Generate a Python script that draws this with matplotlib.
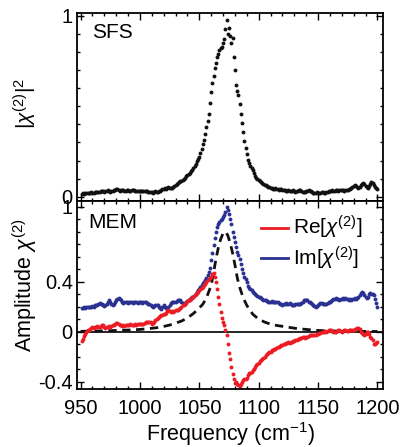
import numpy as np
import matplotlib
matplotlib.use('Agg')
import matplotlib.pyplot as plt
from matplotlib.lines import Line2D
from matplotlib.ticker import FixedLocator, MultipleLocator

plt.rcParams.update({'font.family': 'Liberation Sans', 'font.size': 14.5,
                     'mathtext.fontset': 'custom',
                     'mathtext.rm': 'Liberation Sans',
                     'mathtext.it': 'Liberation Sans:italic'})

# frequency axis (cm-1), one point per wavenumber
freq = np.arange(951, 1201)

# SFS intensity |chi2|^2
sfs = [
    0.015, 0.018, 0.016, 0.020, 0.022, 0.020, 0.019, 0.021, 0.024, 0.022,
    0.023, 0.025, 0.027, 0.026, 0.024, 0.027, 0.030, 0.032, 0.029, 0.027,
    0.030, 0.033, 0.036, 0.031, 0.028, 0.030, 0.033, 0.035, 0.038, 0.042,
    0.040, 0.036, 0.033, 0.035, 0.038, 0.036, 0.034, 0.033, 0.036, 0.035,
    0.033, 0.034, 0.036, 0.038, 0.035, 0.032, 0.030, 0.033, 0.031, 0.029,
    0.030, 0.032, 0.031, 0.034, 0.032, 0.030, 0.025, 0.024, 0.027, 0.026,
    0.023, 0.026, 0.030, 0.028, 0.025, 0.030, 0.034, 0.038, 0.041, 0.044,
    0.046, 0.043, 0.047, 0.052, 0.050, 0.047, 0.050, 0.055, 0.058, 0.064,
    0.070, 0.074, 0.079, 0.084, 0.088, 0.094, 0.100, 0.106, 0.113, 0.120,
    0.126, 0.132, 0.140, 0.148, 0.158, 0.172, 0.183, 0.195, 0.208, 0.222,
    0.240, 0.262, 0.290, 0.315, 0.345, 0.385, 0.420, 0.455, 0.520, 0.580,
    0.630, 0.670, 0.710, 0.740, 0.770, 0.790, 0.810, 0.820, 0.830, 0.850,
    0.870, 0.930, 0.980, 0.900, 0.935, 0.890, 0.850, 0.880, 0.770, 0.700,
    0.620, 0.585, 0.560, 0.510, 0.460, 0.410, 0.360, 0.310, 0.270, 0.235,
    0.205, 0.185, 0.170, 0.158, 0.147, 0.130, 0.115, 0.105, 0.098, 0.092,
    0.085, 0.080, 0.074, 0.068, 0.064, 0.062, 0.058, 0.055, 0.052, 0.050,
    0.047, 0.045, 0.044, 0.046, 0.043, 0.040, 0.038, 0.040, 0.041, 0.037,
    0.035, 0.036, 0.034, 0.033, 0.035, 0.033, 0.031, 0.033, 0.035, 0.031,
    0.028, 0.030, 0.034, 0.037, 0.035, 0.030, 0.026, 0.024, 0.027, 0.030,
    0.033, 0.036, 0.034, 0.030, 0.026, 0.022, 0.020, 0.022, 0.025, 0.023,
    0.021, 0.022, 0.025, 0.024, 0.022, 0.023, 0.026, 0.028, 0.029, 0.030,
    0.032, 0.035, 0.033, 0.034, 0.036, 0.035, 0.034, 0.035, 0.036, 0.037,
    0.035, 0.034, 0.036, 0.038, 0.035, 0.040, 0.045, 0.050, 0.055, 0.060,
    0.062, 0.058, 0.052, 0.050, 0.056, 0.063, 0.070, 0.074, 0.068, 0.060,
    0.052, 0.048, 0.058, 0.070, 0.082, 0.078, 0.065, 0.052, 0.048, 0.040,
]

# MEM imaginary part
im_chi = [
    0.190, 0.190, 0.195, 0.190, 0.200, 0.195, 0.200, 0.195, 0.200, 0.205,
    0.200, 0.210, 0.210, 0.215, 0.220, 0.230, 0.225, 0.220, 0.210, 0.205,
    0.210, 0.220, 0.235, 0.250, 0.240, 0.220, 0.210, 0.220, 0.235, 0.250,
    0.260, 0.270, 0.265, 0.250, 0.240, 0.230, 0.235, 0.240, 0.235, 0.230,
    0.235, 0.240, 0.235, 0.230, 0.235, 0.240, 0.235, 0.230, 0.235, 0.240,
    0.235, 0.230, 0.235, 0.240, 0.235, 0.230, 0.225, 0.220, 0.210, 0.205,
    0.200, 0.205, 0.210, 0.215, 0.210, 0.200, 0.190, 0.185, 0.200, 0.210,
    0.200, 0.190, 0.185, 0.200, 0.215, 0.230, 0.235, 0.240, 0.235, 0.240,
    0.245, 0.250, 0.255, 0.250, 0.240, 0.230, 0.220, 0.225, 0.235, 0.245,
    0.255, 0.260, 0.270, 0.275, 0.280, 0.290, 0.300, 0.315, 0.330, 0.345,
    0.360, 0.375, 0.390, 0.400, 0.415, 0.430, 0.450, 0.480, 0.510, 0.570,
    0.630, 0.690, 0.750, 0.800, 0.840, 0.860, 0.880, 0.890, 0.900, 0.920,
    0.935, 0.960, 1.000, 0.970, 0.940, 0.900, 0.860, 0.800, 0.760, 0.720,
    0.680, 0.640, 0.610, 0.580, 0.540, 0.500, 0.470, 0.440, 0.420, 0.400,
    0.365, 0.350, 0.340, 0.330, 0.320, 0.310, 0.300, 0.290, 0.285, 0.280,
    0.275, 0.270, 0.265, 0.256, 0.255, 0.250, 0.245, 0.240, 0.235, 0.240,
    0.245, 0.240, 0.235, 0.240, 0.240, 0.235, 0.230, 0.225, 0.220, 0.215,
    0.220, 0.225, 0.230, 0.225, 0.220, 0.230, 0.225, 0.215, 0.210, 0.215,
    0.220, 0.225, 0.220, 0.220, 0.225, 0.230, 0.240, 0.250, 0.255, 0.256,
    0.250, 0.240, 0.235, 0.230, 0.225, 0.215, 0.205, 0.200, 0.205, 0.215,
    0.225, 0.230, 0.230, 0.225, 0.220, 0.220, 0.225, 0.230, 0.235, 0.240,
    0.245, 0.250, 0.260, 0.265, 0.270, 0.265, 0.260, 0.255, 0.260, 0.265,
    0.270, 0.265, 0.270, 0.265, 0.260, 0.255, 0.260, 0.256, 0.260, 0.265,
    0.270, 0.265, 0.270, 0.280, 0.295, 0.310, 0.320, 0.310, 0.290, 0.280,
    0.270, 0.280, 0.300, 0.310, 0.305, 0.300, 0.290, 0.260, 0.230, 0.200,
]

# MEM real part
re_chi = [
    -0.075, -0.055, -0.035, -0.020, 0.000, 0.010, 0.015, 0.020, 0.030, 0.035,
    0.030, 0.035, 0.040, 0.045, 0.040, 0.035, 0.045, 0.055, 0.050, 0.040,
    0.030, 0.035, 0.040, 0.045, 0.040, 0.045, 0.050, 0.055, 0.060, 0.070,
    0.070, 0.060, 0.055, 0.050, 0.045, 0.050, 0.045, 0.050, 0.055, 0.050,
    0.055, 0.060, 0.055, 0.050, 0.055, 0.060, 0.055, 0.060, 0.065, 0.060,
    0.065, 0.060, 0.065, 0.070, 0.075, 0.080, 0.075, 0.080, 0.075, 0.065,
    0.070, 0.080, 0.090, 0.100, 0.110, 0.120, 0.125, 0.130, 0.135, 0.140,
    0.140, 0.150, 0.165, 0.170, 0.165, 0.160, 0.165, 0.160, 0.165, 0.170,
    0.170, 0.175, 0.180, 0.190, 0.200, 0.210, 0.215, 0.220, 0.230, 0.245,
    0.250, 0.256, 0.265, 0.275, 0.280, 0.290, 0.300, 0.310, 0.320, 0.330,
    0.340, 0.350, 0.360, 0.370, 0.380, 0.395, 0.415, 0.420, 0.430, 0.440,
    0.460, 0.470, 0.440, 0.400, 0.340, 0.280, 0.220, 0.160, 0.110, 0.080,
    0.050, 0.010, -0.030, -0.100, -0.170, -0.220, -0.280, -0.340, -0.380, -0.410,
    -0.400, -0.420, -0.430, -0.435, -0.420, -0.400, -0.390, -0.380, -0.375, -0.370,
    -0.350, -0.330, -0.330, -0.320, -0.310, -0.300, -0.285, -0.270, -0.260, -0.250,
    -0.235, -0.230, -0.215, -0.210, -0.200, -0.190, -0.180, -0.170, -0.165, -0.160,
    -0.150, -0.145, -0.140, -0.135, -0.130, -0.125, -0.120, -0.115, -0.110, -0.105,
    -0.100, -0.095, -0.090, -0.090, -0.085, -0.090, -0.085, -0.080, -0.077, -0.075,
    -0.070, -0.065, -0.060, -0.055, -0.050, -0.050, -0.045, -0.045, -0.050, -0.045,
    -0.040, -0.035, -0.030, -0.025, -0.024, -0.030, -0.030, -0.025, -0.020, -0.015,
    -0.010, -0.010, -0.005, 0.000, 0.000, 0.005, 0.000, 0.005, 0.010, 0.010,
    0.010, 0.005, 0.000, 0.000, 0.000, 0.005, 0.010, 0.010, 0.005, 0.000,
    0.005, 0.010, 0.010, 0.005, 0.005, 0.010, 0.010, 0.010, 0.010, 0.015,
    0.020, 0.025, 0.030, 0.030, 0.020, 0.000, -0.010, -0.020, -0.025, -0.015,
    -0.005, 0.000, -0.020, -0.040, -0.050, -0.070, -0.100, -0.100, -0.090, -0.080,
]

# dashed fit curve
fit_freq = [950, 960, 970, 980, 990, 1000, 1010, 1015, 1020, 1025, 1030, 1035,
            1040, 1045, 1050, 1053, 1056, 1058, 1060, 1062, 1064, 1066, 1068,
            1070, 1072, 1074, 1076, 1078, 1080, 1082, 1084, 1087, 1090, 1095,
            1100, 1105, 1110, 1115, 1120, 1130, 1140, 1150, 1160, 1170, 1180,
            1190, 1200]
fit_vals = [0.003, 0.005, 0.007, 0.010, 0.013, 0.018, 0.027, 0.033, 0.042,
            0.053, 0.068, 0.085, 0.110, 0.145, 0.190, 0.220, 0.270, 0.320,
            0.370, 0.470, 0.580, 0.670, 0.740, 0.785, 0.800, 0.770, 0.710,
            0.630, 0.535, 0.430, 0.355, 0.270, 0.210, 0.140, 0.100, 0.077,
            0.060, 0.050, 0.043, 0.028, 0.018, 0.010, 0.006, 0.004, 0.003,
            0.002, 0.002]

red = '#ec1c24'
blue = '#2b3192'

fig = plt.figure(figsize=(4.01, 4.47), dpi=100)
ax1 = fig.add_axes([0.192, 0.5503, 0.764, 0.4206])
ax2 = fig.add_axes([0.192, 0.1298, 0.764, 0.4206], sharex=ax1)

ax1.plot(freq, sfs, ls='none', marker='o', ms=2.8, mew=0, color='#111111')
ax1.set_ylim(-0.024, 1.016)
ax1.yaxis.set_major_locator(FixedLocator([0, 1]))
ax1.set_yticklabels(['0', '1'])
ax1.set_ylabel(r'$|\chi^{(2)}|^2$', fontsize=15)
ax1.yaxis.set_label_coords(-0.125, 0.52)
ax1.text(0.05, 0.867, 'SFS', transform=ax1.transAxes, fontsize=15, va='baseline')
ax1.tick_params(axis='x', labelbottom=False)

ax2.axhline(0, color='black', lw=1.2)
ax2.plot(fit_freq, fit_vals, ls='--', color='#111111', lw=2, dashes=(3, 2))
ax2.plot(freq, im_chi, ls='none', marker='o', ms=2.8, mew=0, color=blue)
ax2.plot(freq, re_chi, ls='none', marker='o', ms=2.8, mew=0, color=red)
ax2.set_ylim(-0.458, 1.045)
ax2.yaxis.set_major_locator(FixedLocator([-0.4, 0, 0.4, 1]))
ax2.set_yticklabels(['-0.4', '0', '0.4', '1'])
ax2.set_xlim(947, 1205)
ax2.set_xticks([950, 1000, 1050, 1100, 1150, 1200])
ax2.set_xlabel(r'Frequency (cm$^{\mathrm{-1}}$)', fontsize=15.5, labelpad=2)
ax2.set_ylabel(r'Amplitude $\chi^{(2)}$', fontsize=15.5)
ax2.yaxis.set_label_coords(-0.125, 0.55)
ax2.text(0.038, 0.856, 'MEM', transform=ax2.transAxes, fontsize=15, va='baseline')

handles = [Line2D([], [], color=red, lw=2), Line2D([], [], color=blue, lw=2)]
ax2.legend(handles, [r'Re[$\chi^{(2)}$]', r'Im[$\chi^{(2)}$]'], loc='upper left',
           bbox_to_anchor=(0.6, 0.93), frameon=False, fontsize=15,
           handlelength=1.3, handletextpad=0.25, labelspacing=0.15,
           borderpad=0, borderaxespad=0)

for ax in (ax1, ax2):
    ax.xaxis.set_minor_locator(MultipleLocator(10))
    ax.yaxis.set_minor_locator(MultipleLocator(0.1))
    ax.tick_params(which='both', direction='in', top=True, right=True, width=1)
    ax.tick_params(which='major', length=5)
    ax.tick_params(which='minor', length=2.5)
    ax.tick_params(axis='x', pad=7)
    ax.tick_params(axis='y', pad=3)
    for s in ax.spines.values():
        s.set_linewidth(1.3)

fig.savefig('out.png', dpi=100)
